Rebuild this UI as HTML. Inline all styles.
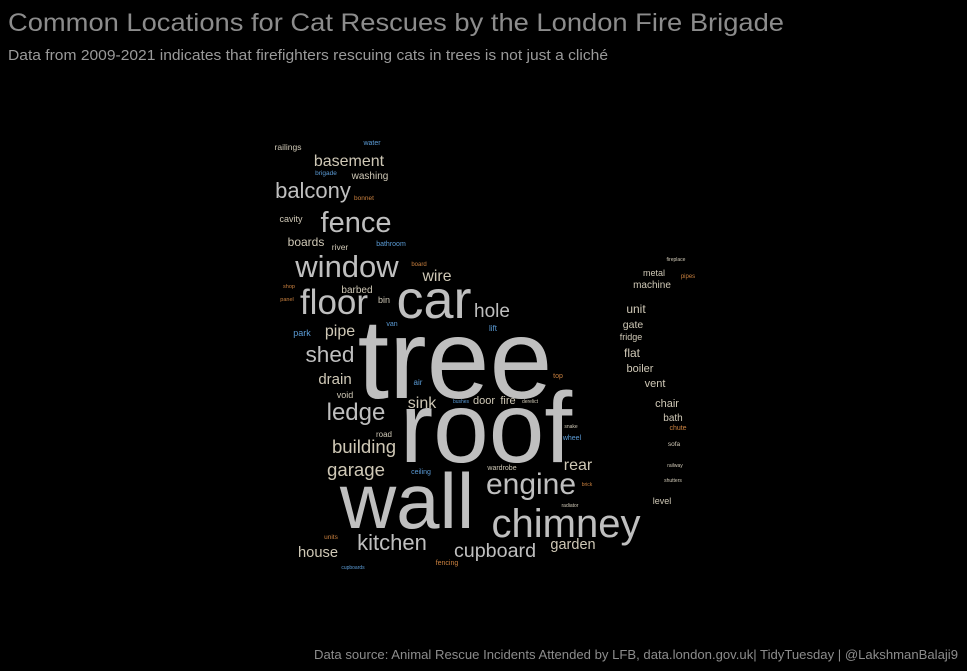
<!DOCTYPE html>
<html><head><meta charset="utf-8"><style>
html,body{margin:0;padding:0;background:#000;}
svg{display:block;font-family:"Liberation Sans",Arial,sans-serif;}
</style></head><body>
<svg id="chart" width="967" height="671" viewBox="0 0 967 671">
<rect width="967" height="671" fill="#000"/>
<text x="8" y="31" font-size="25" fill="#8c8c8c" textLength="776" lengthAdjust="spacingAndGlyphs">Common Locations for Cat Rescues by the London Fire Brigade</text>
<text x="8" y="60" font-size="15" fill="#9a9a9a" textLength="600" lengthAdjust="spacingAndGlyphs">Data from 2009-2021 indicates that firefighters rescuing cats in trees is not just a cliché</text>
<text x="958" y="659" font-size="13" fill="#8c8c8c" text-anchor="end" textLength="644" lengthAdjust="spacingAndGlyphs">Data source: Animal Rescue Incidents Attended by LFB, data.london.gov.uk| TidyTuesday | @LakshmanBalaji9</text>
<g id="words"></g>
</svg>
<script>
const words = ["tree","roof","wall","car","chimney","engine","window","floor","fence","balcony","basement","ledge","shed","kitchen","cupboard","building","garage","hole","rear","garden","house","drain","pipe","wire","sink","door","fire","boards","barbed","washing","railings","water","brigade","bonnet","cavity","river","bathroom","board","shop","panel","bin","van","park","lift","air","void","top","bushes","derelict","snake","wheel","road","ceiling","wardrobe","brick","radiator","units","cupboards","fencing","fireplace","metal","pipes","machine","unit","gate","fridge","flat","boiler","vent","chair","bath","chute","sofa","railway","shutters","level"];
const sizes = [113,100,78,54,40,30,31,35,29,22,16,24,22.6,22,19.7,18.6,18.6,19,16,14.5,14.7,15,16,15.8,16,11,11,12,10,10,8.5,7,6.5,6.5,9,8.5,7,6,5.5,5.5,9,7,9,8,8,9,7,5,5,5,7,8,7,7,5,5,6.5,5,7,5,9,6,10,12,10.5,9,12,11,11,11,10,7,6.5,5,5,9];
const groups = ["g","g","g","g","g","g","g","g","g","g","t","g","g","g","g","t","t","g","t","t","t","t","t","t","t","t","t","t","t","t","t","b","b","o","t","t","b","o","o","o","t","b","b","b","b","t","o","b","t","t","b","t","b","t","o","t","o","b","o","t","t","o","t","t","t","t","t","t","t","t","t","o","t","t","t","t"];
// layout (center x, baseline y) from the word-cloud placement
const layoutX = [455,486,407,434,566,531,347,334,356,313,349,356,330,392,495,364,356,492,578,573,318,335,340,437,422,484,508,306,357,370,288,372,326,364,291,340,391,419,289,287,384,392,302,493,418,345,558,461,530,571,572,384,421,502,587,570,331,353,447,676,654,688,652,636,633,631,632,640,655,667,673,678,674,675,673,662];
const layoutY = [398,462,528,318,537,494,277,314,232,198,166,420,362,550,557,453,476,317,470,549,557,384,336,281,408,404,404,246,293,179,150,145,175,200,222,250,246,266,288,301,303,326,336,331,385,398,378,403,403,428,440,437,474,470,486,507,539,569,565,261,276,278,288,313,328,340,357,372,387,407,421,430,446,467,482,504];
const palette = {g:"#bfbfbf", t:"#cfc8b6", b:"#5b9bd5", o:"#c9803f"};
const svgNS = "http://www.w3.org/2000/svg";
const g = document.getElementById("words");
for (let i = 0; i < words.length; i++) {
  const t = document.createElementNS(svgNS, "text");
  t.setAttribute("x", layoutX[i]);
  t.setAttribute("y", layoutY[i]);
  t.setAttribute("font-size", sizes[i]);
  t.setAttribute("text-anchor", "middle");
  t.setAttribute("fill", sizes[i] >= 24 ? palette.g : palette[groups[i]]);
  t.textContent = words[i];
  
  
  g.appendChild(t);
}
</script>
</body></html>
